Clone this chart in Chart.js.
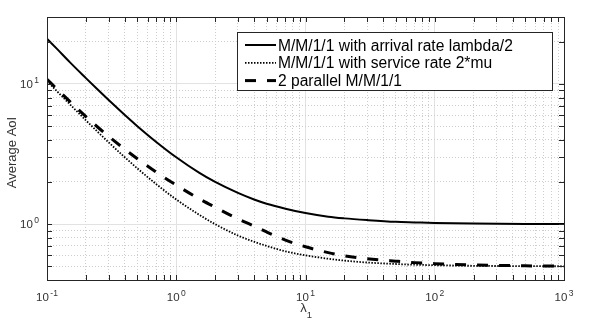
<!DOCTYPE html>
<html>
<head>
<meta charset="utf-8">
<script src="https://cdn.jsdelivr.net/npm/chart.js@4.4.1/dist/chart.umd.min.js"></script>
<style>
  html, body { margin: 0; padding: 0; background: #fff; }
</style>
</head>
<body>
<canvas id="aoi" width="598" height="324"></canvas>
<script>
// lambda_1 values and average AoI
var lambdas = [0.1, 0.12, 0.15, 0.2, 0.25, 0.3, 0.4, 0.5, 0.7, 1, 1.5, 2, 3, 4, 5, 7, 10, 15, 20, 30, 50, 70, 100, 200, 500, 1000];
var arrivalHalf = [21, 17.7, 14.3, 11, 9, 7.67, 6, 5, 3.86, 3, 2.33, 2, 1.67, 1.5, 1.4, 1.29, 1.2, 1.13, 1.1, 1.07, 1.04, 1.03, 1.02, 1.01, 1.004, 1.002];
var serviceDouble = [10.5, 8.83, 7.17, 5.5, 4.5, 3.83, 3.0, 2.5, 1.93, 1.5, 1.17, 1.0, 0.83, 0.75, 0.7, 0.64, 0.6, 0.567, 0.55, 0.533, 0.52, 0.514, 0.51, 0.505, 0.502, 0.501];
var parallel = [10.8, 9.15, 7.5, 5.85, 4.87, 4.23, 3.42, 2.93, 2.35, 1.9, 1.52, 1.32, 1.09, 0.97, 0.88, 0.77, 0.69, 0.627, 0.595, 0.568, 0.545, 0.532, 0.523, 0.512, 0.505, 0.502];
var seriesNames = ['M/M/1/1 with arrival rate lambda/2', 'M/M/1/1 with service rate 2*mu', '2 parallel M/M/1/1'];
var xDecades = [-1, 0, 1, 2, 3];
var yDecades = [0, 1];

var FONT = '"Liberation Sans", Arial, Helvetica, sans-serif';
var AXIS = '#262626';

function pts(ys) {
  return lambdas.map(function (x, i) { return {x: x, y: ys[i]}; });
}
function isDecade(v) {
  var l = Math.log10(v);
  return Math.abs(l - Math.round(l)) < 1e-9;
}
function keepIntegerMantissa(scale) {
  scale.ticks = scale.ticks.filter(function (t) {
    var m = t.value / Math.pow(10, Math.floor(Math.log10(t.value) + 1e-9));
    return Math.abs(m - Math.round(m)) < 1e-6;
  });
}

var gridOpts = {
  drawTicks: false,
  lineWidth: 1,
  color: function (c) { return c.tick && isDecade(c.tick.value) ? '#e2e2e2' : '#cdcdcd'; }
};
var borderOpts = {
  display: false,
  dash: function (c) { return c.tick && isDecade(c.tick.value) ? [] : [1, 2]; }
};

// draws box, inward ticks, powers-of-ten labels, axis titles and the legend
var matlabAxes = {
  id: 'matlabAxes',
  afterDraw: function (chart) {
    var g = chart.ctx, a = chart.chartArea;
    var xs = chart.scales.x, ys = chart.scales.y;
    g.save();
    g.strokeStyle = AXIS;
    g.lineWidth = 1;
    g.strokeRect(Math.round(a.left) + 0.5, Math.round(a.top) + 0.5, Math.round(a.right - a.left), Math.round(a.bottom - a.top));
    var tl = 5;
    g.beginPath();
    xs.ticks.forEach(function (t) {
      var p = Math.round(xs.getPixelForValue(t.value)) + 0.5;
      g.moveTo(p, a.bottom); g.lineTo(p, a.bottom - tl);
      g.moveTo(p, a.top); g.lineTo(p, a.top + tl);
    });
    ys.ticks.forEach(function (t) {
      var p = Math.round(ys.getPixelForValue(t.value)) + 0.5;
      g.moveTo(a.left, p); g.lineTo(a.left + tl, p);
      g.moveTo(a.right, p); g.lineTo(a.right - tl, p);
    });
    g.stroke();

    g.fillStyle = '#333';
    g.textBaseline = 'alphabetic';
    function power(e, cx, cy, alignRight) {
      g.font = '11.5px ' + FONT;
      var bw = g.measureText('10').width;
      g.font = '8.5px ' + FONT;
      var ew = g.measureText(String(e)).width;
      var total = bw + 1.5 + ew;
      var x0 = alignRight ? cx - total : cx - total / 2;
      g.textAlign = 'left';
      g.font = '11.5px ' + FONT;
      g.fillText('10', x0, cy + 4);
      g.font = '8.5px ' + FONT;
      g.fillText(String(e), x0 + bw + 1.5, cy - 1);
    }
    xDecades.forEach(function (e) {
      power(e, xs.getPixelForValue(Math.pow(10, e)), a.bottom + 17, false);
    });
    yDecades.forEach(function (e) {
      power(e, a.left - 8, ys.getPixelForValue(Math.pow(10, e)), true);
    });

    // axis titles
    g.font = '13px ' + FONT;
    g.textAlign = 'center';
    var cx = (a.left + a.right) / 2;
    g.fillText('\u03bb', cx - 2, a.bottom + 32);
    g.font = '9.5px ' + FONT;
    g.fillText('1', cx + 4, a.bottom + 38);
    g.save();
    g.translate(16, (a.top + a.bottom) / 2 + 4);
    g.rotate(-Math.PI / 2);
    g.font = '13px ' + FONT;
    g.fillText('Average AoI', 0, 0);
    g.restore();

    // legend
    var bx = 237, by = 32, bw2 = 315, bh = 58;
    g.fillStyle = '#fff';
    g.fillRect(bx, by, bw2, bh);
    g.strokeStyle = AXIS;
    g.strokeRect(bx + 0.5, by + 0.5, bw2, bh);
    chart.data.datasets.forEach(function (ds, i) {
      var y = by + 13 + i * 17.8;
      g.save();
      g.strokeStyle = ds.borderColor;
      g.lineWidth = ds.borderWidth;
      g.setLineDash(ds.borderDash || []);
      g.beginPath();
      g.moveTo(bx + 8, y); g.lineTo(bx + 39, y);
      g.stroke();
      g.restore();
      g.fillStyle = '#000';
      g.textAlign = 'left';
      g.font = '15.6px ' + FONT;
      g.fillText(ds.label, bx + 41, y + 5.5);
    });
    g.restore();
  }
};

var ctx = document.getElementById('aoi').getContext('2d');
var aoiChart = new Chart(ctx, {
  type: 'line',
  data: {
    datasets: [{
      label: seriesNames[0],
      data: pts(arrivalHalf),
      borderColor: '#000',
      borderWidth: 2,
      pointRadius: 0,
      cubicInterpolationMode: 'monotone'
    }, {
      label: seriesNames[1],
      data: pts(serviceDouble),
      borderColor: '#000',
      borderWidth: 1.8,
      borderDash: [1.5, 1.5],
      pointRadius: 0,
      cubicInterpolationMode: 'monotone'
    }, {
      label: seriesNames[2],
      data: pts(parallel),
      borderColor: '#000',
      borderWidth: 3,
      borderDash: [11, 11],
      pointRadius: 0,
      cubicInterpolationMode: 'monotone'
    }]
  },
  options: {
    responsive: false,
    animation: false,
    layout: { padding: { left: 47, right: 34, top: 17, bottom: 44 } },
    plugins: { legend: { display: false }, tooltip: { enabled: false } },
    scales: {
      x: {
        type: 'logarithmic',
        min: 0.1,
        max: 1000,
        afterBuildTicks: keepIntegerMantissa,
        ticks: { display: false, autoSkip: false },
        grid: gridOpts,
        border: borderOpts
      },
      y: {
        type: 'logarithmic',
        min: 0.4,
        max: 30,
        afterBuildTicks: keepIntegerMantissa,
        ticks: { display: false, autoSkip: false },
        grid: gridOpts,
        border: borderOpts
      }
    }
  },
  plugins: [matlabAxes]
});
</script>
</body>
</html>
